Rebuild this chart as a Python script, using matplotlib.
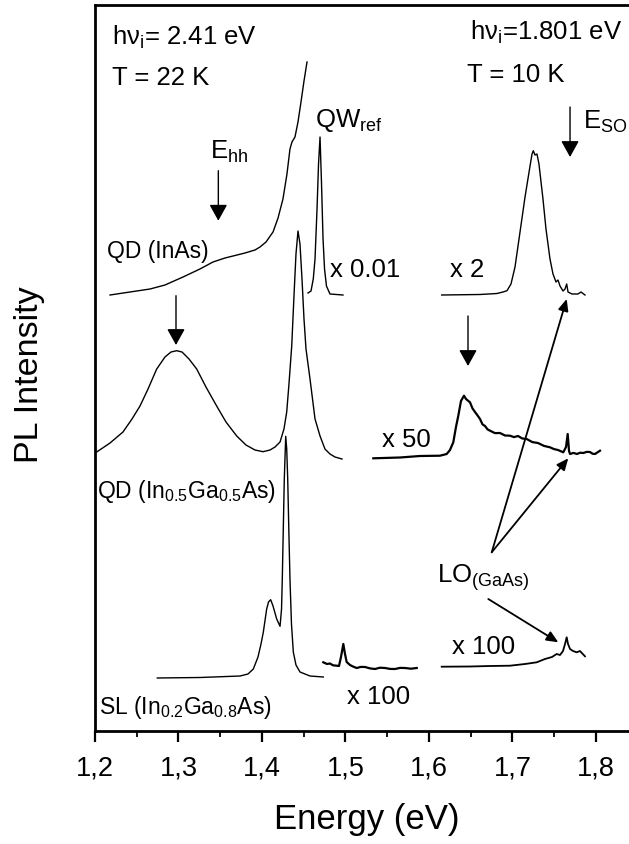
import matplotlib
matplotlib.use("Agg")
import matplotlib.pyplot as plt
from matplotlib.ticker import MultipleLocator, FuncFormatter

plt.rcParams['font.family'] = ['Liberation Sans', 'DejaVu Sans']
plt.rcParams['mathtext.fontset'] = 'custom'
plt.rcParams['mathtext.rm'] = 'Liberation Sans'
plt.rcParams['mathtext.it'] = 'Liberation Sans:italic'
plt.rcParams['mathtext.bf'] = 'Liberation Sans:bold'

# ---- data (energy in eV, PL intensity in arb. units incl. vertical offsets) ----
qd_inas_E = [1.2180, 1.2419, 1.2659, 1.2838, 1.3054, 1.3257, 1.3413, 1.3557, 1.3653, 1.3796,
             1.3916, 1.3976, 1.4048, 1.4132, 1.4192, 1.4251, 1.4299, 1.4335, 1.4359, 1.4395,
             1.4431, 1.4467, 1.4503, 1.4539]
qd_inas_I = [435.7, 438.7, 441.7, 445.7, 453.7, 461.7, 468.7, 472.7, 474.7, 477.7,
             480.7, 483.7, 488.7, 498.7, 512.7, 531.7, 556.7, 581.7, 588.7, 593.7,
             608.7, 628.7, 649.7, 668.7]

qw_ref_E = [1.4551, 1.4587, 1.4614, 1.4635, 1.4659, 1.4677, 1.4695, 1.4713, 1.4731, 1.4749,
            1.4772, 1.4814, 1.4970]
qw_ref_I = [437.7, 439.7, 451.7, 471.7, 521.7, 566.7, 593.7, 546.7, 491.7, 461.7,
            444.7, 436.7, 435.7]

x2_E = [1.6152, 1.6611, 1.6814, 1.6886, 1.6934, 1.6982, 1.7030, 1.7090, 1.7150, 1.7210,
        1.7234, 1.7249, 1.7269, 1.7293, 1.7317, 1.7365, 1.7401, 1.7449, 1.7485, 1.7521,
        1.7545, 1.7569, 1.7605, 1.7629, 1.7649, 1.7665, 1.7713, 1.7784, 1.7820, 1.7868]
x2_I = [435.7, 436.2, 437.2, 438.7, 440.0, 446.7, 463.7, 498.7, 533.7, 564.7,
        576.7, 580.0, 575.7, 576.7, 566.7, 531.7, 501.7, 471.7, 456.7, 448.7,
        450.7, 444.7, 439.7, 441.7, 446.7, 438.7, 436.7, 436.7, 438.7, 435.7]

qd_ingaas_E = [1.2020, 1.2180, 1.2335, 1.2443, 1.2539, 1.2635, 1.2739, 1.2838, 1.2910, 1.2978,
               1.3042, 1.3126, 1.3218, 1.3329, 1.3457, 1.3569, 1.3697, 1.3808, 1.3916, 1.4012,
               1.4096, 1.4156, 1.4216, 1.4263, 1.4296, 1.4323, 1.4356, 1.4383, 1.4407, 1.4431,
               1.4455, 1.4479, 1.4503, 1.4527, 1.4575, 1.4635, 1.4695, 1.4754, 1.4814, 1.4874,
               1.4958]
qd_ingaas_I = [278.7, 287.7, 298.7, 311.7, 324.7, 341.7, 361.7, 373.7, 378.7, 380.0,
               378.7, 371.7, 361.7, 343.7, 324.7, 308.7, 294.7, 285.7, 280.7, 279.0,
               280.7, 283.7, 288.7, 301.7, 318.7, 346.7, 384.7, 434.7, 476.7, 499.7,
               486.7, 451.7, 411.7, 381.7, 351.7, 311.7, 294.7, 281.7, 276.7, 273.7,
               271.7]

x50_E = [1.5333, 1.5653, 1.5892, 1.6132, 1.6212, 1.6251, 1.6291, 1.6323, 1.6351, 1.6383,
         1.6419, 1.6443, 1.6491, 1.6521, 1.6551, 1.6581, 1.6611, 1.6641, 1.6671, 1.6701,
         1.6731, 1.6790, 1.6850, 1.6910, 1.6970, 1.7018, 1.7066, 1.7118, 1.7170, 1.7238,
         1.7305, 1.7377, 1.7449, 1.7497, 1.7545, 1.7608, 1.7641, 1.7661, 1.7677, 1.7689,
         1.7730, 1.7772, 1.7810, 1.7848, 1.7888, 1.7928, 1.7958, 1.7988, 1.8048]
x50_I = [272.4, 273.2, 274.7, 275.0, 276.7, 280.7, 288.4, 303.7, 315.0, 329.7,
         335.0, 331.7, 328.4, 322.3, 318.7, 315.3, 311.7, 306.3, 304.7, 301.3,
         300.0, 297.6, 297.7, 295.2, 295.0, 293.6, 294.7, 292.2, 291.7, 288.6,
         287.7, 284.8, 283.4, 281.6, 280.7, 278.4, 283.7, 296.7, 279.7, 276.7,
         277.8, 276.7, 278.0, 277.7, 278.8, 278.7, 277.0, 276.7, 280.0]

sl_E = [1.2746, 1.3257, 1.3737, 1.3832, 1.3896, 1.3952, 1.3988, 1.4016, 1.4056, 1.4078,
        1.4104, 1.4132, 1.4176, 1.4216, 1.4234, 1.4243, 1.4255, 1.4267, 1.4284, 1.4296,
        1.4308, 1.4321, 1.4335, 1.4353, 1.4375, 1.4407, 1.4455, 1.4575, 1.4734]
sl_I = [52.7, 53.2, 54.7, 56.7, 61.7, 73.7, 86.7, 98.7, 121.7, 128.7,
        131.0, 124.7, 111.7, 104.4, 121.7, 151.7, 201.7, 251.7, 294.4, 281.7,
        251.7, 201.7, 151.7, 106.7, 78.7, 65.7, 58.7, 54.7, 53.7]

sl_x100a_E = [1.4734, 1.4778, 1.4814, 1.4850, 1.4895, 1.4922, 1.4946, 1.4974, 1.4994, 1.5014,
              1.5054, 1.5094, 1.5134, 1.5184, 1.5234, 1.5294, 1.5353, 1.5413, 1.5473, 1.5533,
              1.5593, 1.5653, 1.5713, 1.5783, 1.5853]
sl_x100a_I = [68.4, 66.7, 67.2, 65.4, 65.0, 64.7, 73.7, 86.7, 76.7, 68.7,
              65.7, 64.0, 62.7, 63.8, 63.7, 62.3, 61.7, 63.0, 62.7, 61.8,
              61.7, 62.8, 62.7, 62.0, 62.7]

sl_x100b_E = [1.6152, 1.6491, 1.6731, 1.6970, 1.7150, 1.7290, 1.7389, 1.7473, 1.7529, 1.7569,
              1.7605, 1.7629, 1.7649, 1.7665, 1.7689, 1.7725, 1.7769, 1.7808, 1.7868]
sl_x100b_I = [64.0, 64.2, 64.7, 65.0, 66.7, 68.4, 71.7, 73.7, 76.7, 75.7,
              79.7, 86.7, 93.4, 86.7, 81.7, 79.7, 78.4, 79.7, 74.4]

x_ticks = [1.2, 1.3, 1.4, 1.5, 1.6, 1.7, 1.8]

# ---- figure ----
fig = plt.figure(figsize=(6.29, 8.45), dpi=100)
ax = fig.add_axes([0.15103, 0.13408, 0.86288, 0.85882])
ax.set_xlim(1.2, 1.85)
ax.set_ylim(0, 725.7)

lw = 1.0
for E, I, w in [(qd_inas_E, qd_inas_I, lw), (qw_ref_E, qw_ref_I, lw), (x2_E, x2_I, lw),
                (qd_ingaas_E, qd_ingaas_I, lw), (x50_E, x50_I, 1.6), (sl_E, sl_I, lw),
                (sl_x100a_E, sl_x100a_I, 1.6), (sl_x100b_E, sl_x100b_I, 1.3)]:
    ax.plot(E, I, color='black', lw=w, solid_joinstyle='round')

# spines & ticks
for s in ['left', 'bottom', 'top']:
    ax.spines[s].set_linewidth(2.0)
ax.spines['right'].set_visible(False)
ax.set_yticks([])
ax.set_xticks(x_ticks)
ax.xaxis.set_minor_locator(MultipleLocator(0.05))
ax.xaxis.set_major_formatter(FuncFormatter(lambda v, p: f"{v:.1f}".replace('.', ',')))
ax.tick_params(axis='x', which='major', direction='out', length=8, width=1.6,
               labelsize=19.5, pad=9)
ax.tick_params(axis='x', which='minor', direction='out', length=4, width=1.3)

ax.set_xlabel('Energy (eV)', fontsize=25)
ax.xaxis.set_label_coords(0.5, -0.098)
ax.set_ylabel('PL Intensity', fontsize=24.5)
ax.yaxis.set_label_coords(-0.092, 0.4915)

fs = 18.5
txt = [
    (1.2200, 686.7, r'h$\mathrm{\nu_i}$= 2.41 eV', fs),
    (1.2204, 646.7, 'T = 22 K', fs),
    (1.6491, 691.7, r'h$\mathrm{\nu_i}$=1.801 eV', fs),
    (1.6451, 650.0, 'T = 10 K', fs),
    (1.3377, 573.4, r'E$_\mathrm{hh}$', fs),
    (1.4635, 604.4, r'QW$_\mathrm{ref}$', fs),
    (1.7844, 602.7, r'E$_\mathrm{SO}$', fs),
    (1.2140, 473.7, 'QD (InAs)', 16.5),
    (1.4814, 455.0, 'x 0.01', fs),
    (1.6251, 455.0, 'x 2', fs),
    (1.5433, 285.0, 'x 50', fs),
    (1.2020, 233.7, r'QD (In$_\mathrm{0.5}$Ga$_\mathrm{0.5}$As)', 16.5),
    (1.6092, 148.7, r'LO$_\mathrm{(GaAs)}$', fs),
    (1.6272, 77.7, 'x 100', fs),
    (1.5013, 28.2, 'x 100', fs),
    (1.2051, 17.7, r'SL (In$_\mathrm{0.2}$Ga$_\mathrm{0.8}$As)', 16.5),
]
for x, y, s, f in txt:
    ax.text(x, y, s, fontsize=f, ha='left', va='baseline')

# thick downward arrows
big = dict(arrowstyle='-|>,head_length=0.45,head_width=0.25', color='black', lw=1.0,
           shrinkA=0, shrinkB=0, mutation_scale=22)
for x, y0, y1 in [(1.3477, 560.0, 510.0), (1.2970, 435.0, 385.7),
                  (1.6467, 414.7, 364.7), (1.7689, 623.7, 573.7)]:
    ax.annotate('', xy=(x, y1), xytext=(x, y0), arrowprops=big)

# LO phonon arrows
small = dict(arrowstyle='-|>,head_length=0.5,head_width=0.22', color='black', lw=1.3,
             shrinkA=0, shrinkB=0, mutation_scale=14)
for (x0, y0), (x1, y1) in [((1.6751, 178.4), (1.7649, 431.7)),
                           ((1.6751, 178.4), (1.7668, 272.4)),
                           ((1.6710, 131.7), (1.7549, 88.4))]:
    ax.annotate('', xy=(x1, y1), xytext=(x0, y0), arrowprops=small)

fig.savefig('out.png', dpi=100)
